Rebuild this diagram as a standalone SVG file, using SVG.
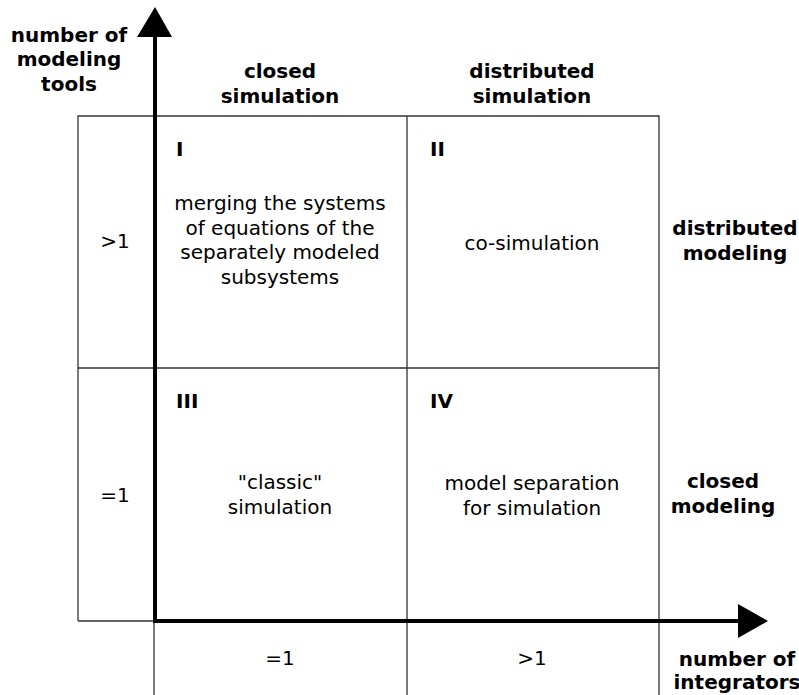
<svg xmlns="http://www.w3.org/2000/svg" width="799" height="695" viewBox="0 0 799 695">
<style>
text{font-family:"DejaVu Sans","Liberation Sans",sans-serif;font-size:20px;fill:#000;text-anchor:middle}
.b{font-weight:bold}
.l{text-anchor:start}
.grid{stroke:#333;stroke-width:1.3;fill:none}
.axis{stroke:#000;stroke-width:4;fill:none}
</style>
<rect width="799" height="695" fill="#fff"/>
<g id="grid">
<path class="grid" d="M78,621 V116 H659 V695 M407,116 V695 M78,368 H659 M78,621 H154 M154,621 V695"/>
</g>
<g id="connectors">
<path class="axis" d="M155,621 V35"/>
<polygon points="137,37 172,37 155,7" fill="#000"/>
<path class="axis" d="M153,621 H740"/>
<polygon points="738,604 738,638 768,621" fill="#000"/>
</g>
<g id="y-axis-label"><text class="b" x="69" y="42">number of</text><text class="b" x="69" y="66">modeling</text><text class="b" x="69" y="91">tools</text></g>
<g id="col-closed-simulation"><text class="b" x="280" y="78">closed</text><text class="b" x="280" y="103">simulation</text></g>
<g id="col-distributed-simulation"><text class="b" x="532" y="78">distributed</text><text class="b" x="532" y="103">simulation</text></g>
<g id="row-gt1"><text x="115" y="248">&gt;1</text></g>
<g id="row-eq1"><text x="115" y="502">=1</text></g>
<g id="quadrant-I"><text class="b l" x="176" y="156">I</text>
<text x="280" y="210">merging the systems</text><text x="280" y="234.5">of equations of the</text><text x="280" y="259">separately modeled</text><text x="280" y="283.5">subsystems</text></g>
<g id="quadrant-II"><text class="b l" x="430" y="156">II</text><text x="532" y="250">co-simulation</text></g>
<g id="quadrant-III"><text class="b l" x="176" y="408">III</text><text x="280" y="489">"classic"</text><text x="280" y="514">simulation</text></g>
<g id="quadrant-IV"><text class="b l" x="430" y="408">IV</text><text x="532" y="490">model separation</text><text x="532" y="515">for simulation</text></g>
<g id="row-distributed-modeling"><text class="b" x="735" y="235">distributed</text><text class="b" x="735" y="260">modeling</text></g>
<g id="row-closed-modeling"><text class="b" x="723" y="488">closed</text><text class="b" x="723" y="513">modeling</text></g>
<g id="col-eq1"><text x="280" y="665">=1</text></g>
<g id="col-gt1"><text x="532" y="665">&gt;1</text></g>
<g id="x-axis-label"><text class="b" x="737" y="666">number of</text><text class="b" x="737" y="689">integrators</text></g>
</svg>
